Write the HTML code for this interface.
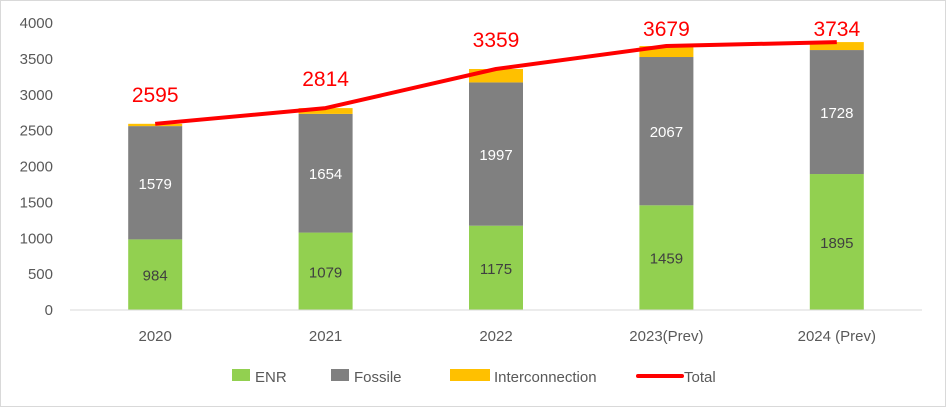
<!DOCTYPE html>
<html><head><meta charset="utf-8"><style>
body{margin:0;background:#fff}
svg{display:block;font-family:"Liberation Sans",sans-serif}
</style></head><body>
<svg id="c" width="946" height="407">
<rect x="0.5" y="0.5" width="945" height="406" fill="#fff" stroke="#d9d9d9"/>
</svg>
<script>
const categories=["2020","2021","2022","2023(Prev)","2024 (Prev)"];
const enr=[984,1079,1175,1459,1895];
const fossile=[1579,1654,1997,2067,1728];
const interco=[32,81,187,153,111];
const total=[2595,2814,3359,3679,3734];
const yTicks=[0,500,1000,1500,2000,2500,3000,3500,4000];
const svg=document.getElementById('c');
const NS='http://www.w3.org/2000/svg';
const x0=70,x1=922,yB=310,yT=23,yMax=4000;
const y=v=>yB-(v/yMax)*(yB-yT);
const bw=(x1-x0)/categories.length;
const xc=i=>x0+bw*(i+0.5);
function mk(t,a,txt){const e=document.createElementNS(NS,t);for(const k in a)e.setAttribute(k,a[k]);if(txt!=null)e.textContent=txt;svg.appendChild(e);return e;}
yTicks.forEach(v=>{
 const t=mk('text',{x:53,y:y(v)+5,'text-anchor':'end','font-size':15,fill:'#595959'},v);
 
 
});
const W=54;
categories.forEach((c,i)=>{
 const segs=[[enr[i],0,'#92d050','#404040'],[fossile[i],enr[i],'#808080','#fff'],[interco[i],enr[i]+fossile[i],'#ffc000',null]];
 segs.forEach((s,j)=>{
  const r=mk('rect',{x:xc(i)-W/2,y:y(s[1]+s[0]),width:W,height:y(s[1])-y(s[1]+s[0]),fill:s[2]});
  
  
  if(s[3]){const t=mk('text',{x:xc(i),y:(y(s[1])+y(s[1]+s[0]))/2+6,'text-anchor':'middle','font-size':15,fill:s[3]},s[0]);
   
   }
 });
 const t=mk('text',{x:xc(i),y:341,'text-anchor':'middle','font-size':15,fill:'#595959'},c);
 
 
 const tl=mk('text',{x:xc(i),y:Math.max(y(total[i])-22,36),'text-anchor':'middle','font-size':21,fill:'#ff0000'},total[i]);
 
 
});
const ax=mk('line',{x1:x0,x2:x1,y1:yB,y2:yB,stroke:'#d9d9d9','stroke-width':1});


const pl=mk('polyline',{points:total.map((v,i)=>xc(i)+','+y(v)).join(' '),fill:'none',stroke:'#ff0000','stroke-width':4,'stroke-linejoin':'round'});


const leg=[['ENR','#92d050',232,'rect'],['Fossile','#808080',331,'rect'],['Interconnection','#ffc000',450,'rect'],['Total','#ff0000',638,'line']];
leg.forEach(l=>{
 let m;
 if(l[3]==='rect'){m=mk('rect',{x:l[2],y:369,width:l[0]==='Interconnection'?40:18,height:12,fill:l[1]});}
 else{m=mk('line',{x1:l[2],x2:l[2]+44,y1:376,y2:376,stroke:l[1],'stroke-width':4,'stroke-linecap':'round'});}
 
 
 const tx=l[3]==='line'?l[2]+46:l[2]+(l[0]==='Interconnection'?44:23);
 const t=mk('text',{x:tx,y:382,'font-size':15,fill:'#595959'},l[0]);
 
 
});
</script>
</body></html>
